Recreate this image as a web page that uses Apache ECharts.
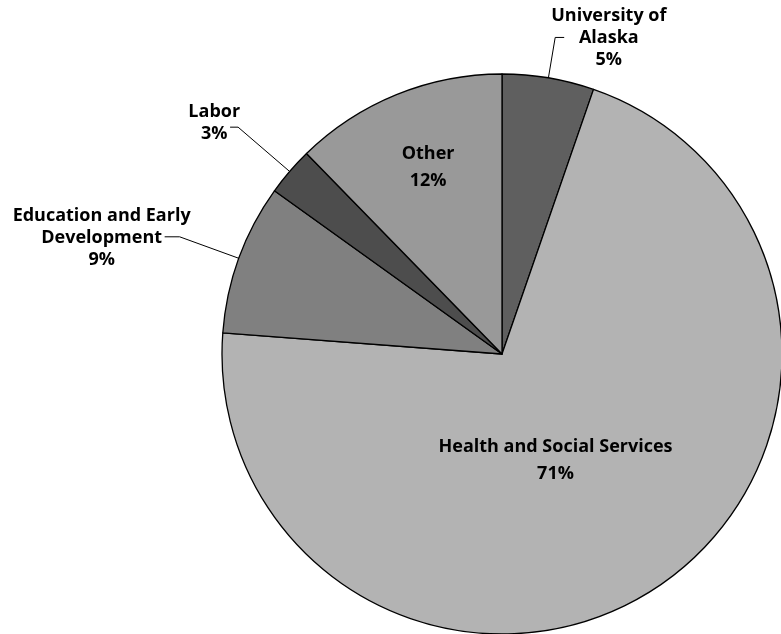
<!DOCTYPE html>
<html>
<head>
<meta charset="utf-8">
<script src="https://cdn.jsdelivr.net/npm/echarts@6/dist/echarts.min.js"></script>
<style>html,body{margin:0;padding:0;background:#fff;}#chart{width:781px;height:634px;}</style>
</head>
<body>
<div id="chart"></div>
<script>
// ---- data ----
const categories = ['University of Alaska', 'Health and Social Services', 'Education and Early Development', 'Labor', 'Other'];
const labelLines = [['University of', 'Alaska'], ['Health and Social Services'], ['Education and Early', 'Development'], ['Labor'], ['Other']];
const values = [5.3, 70.9, 8.7, 2.8, 12.3];

// ---- styles ----
const colors = ['#5f5f5f', '#b3b3b3', '#808080', '#4d4d4d', '#999999'];
const FONT = '"Open Sans"';
const FS = 18;
const inside = [false, true, false, false, true];
const insideOffset = {1: [-25, -13], 4: [-20, -54]};
const lineCfg = {
  0: {length: 41, length2: 9, dist: -13, padding: 0},
  2: {length: 63, length2: 15, dist: -26, padding: [3, 0, 0, 0]},
  3: {length: 68, length2: 8, dist: -10, padding: [0, 0, 8, 0]}
};

const data = categories.map((name, i) => {
  const item = {
    name: name,
    value: values[i],
    itemStyle: {color: colors[i]}
  };
  if (inside[i]) {
    item.label = {position: 'inside'};
    item.labelLine = {show: false};
  } else {
    const c = lineCfg[i];
    item.label = {position: 'outside', distanceToLabelLine: c.dist, padding: c.padding};
    item.labelLine = {show: true, length: c.length, length2: c.length2, lineStyle: {color: '#000', width: 1}};
  }
  return item;
});

const chart = echarts.init(document.getElementById('chart'), null, {renderer: 'canvas'});
chart.setOption({
  animation: false,
  backgroundColor: '#fff',
  series: [{
    type: 'pie',
    center: [502, 354],
    radius: 280,
    startAngle: 90,
    clockwise: true,
    avoidLabelOverlap: false,
    data: data,
    itemStyle: {borderColor: '#000', borderWidth: 1.3},
    label: {
      fontFamily: FONT, fontWeight: 'bold', fontSize: FS, color: '#000',
      formatter: function (p) {
        const tag = inside[p.dataIndex] ? 'i' : 'c';
        const lines = labelLines[p.dataIndex].concat([Math.round(p.percent) + '%']);
        return lines.map(l => '{' + tag + '|' + l + '}').join('\n');
      },
      rich: {
        c: {fontFamily: FONT, fontWeight: 'bold', fontSize: FS, color: '#000', align: 'center', lineHeight: 22},
        i: {fontFamily: FONT, fontWeight: 'bold', fontSize: FS, color: '#000', align: 'center', lineHeight: 27}
      }
    },
    labelLayout: function (params) {
      const off = insideOffset[params.dataIndex];
      if (!off) return {};
      const r = params.labelRect;
      return {
        x: r.x + r.width / 2 + off[0],
        y: r.y + r.height / 2 + off[1],
        align: 'center',
        verticalAlign: 'middle'
      };
    }
  }]
});
</script>
</body>
</html>
